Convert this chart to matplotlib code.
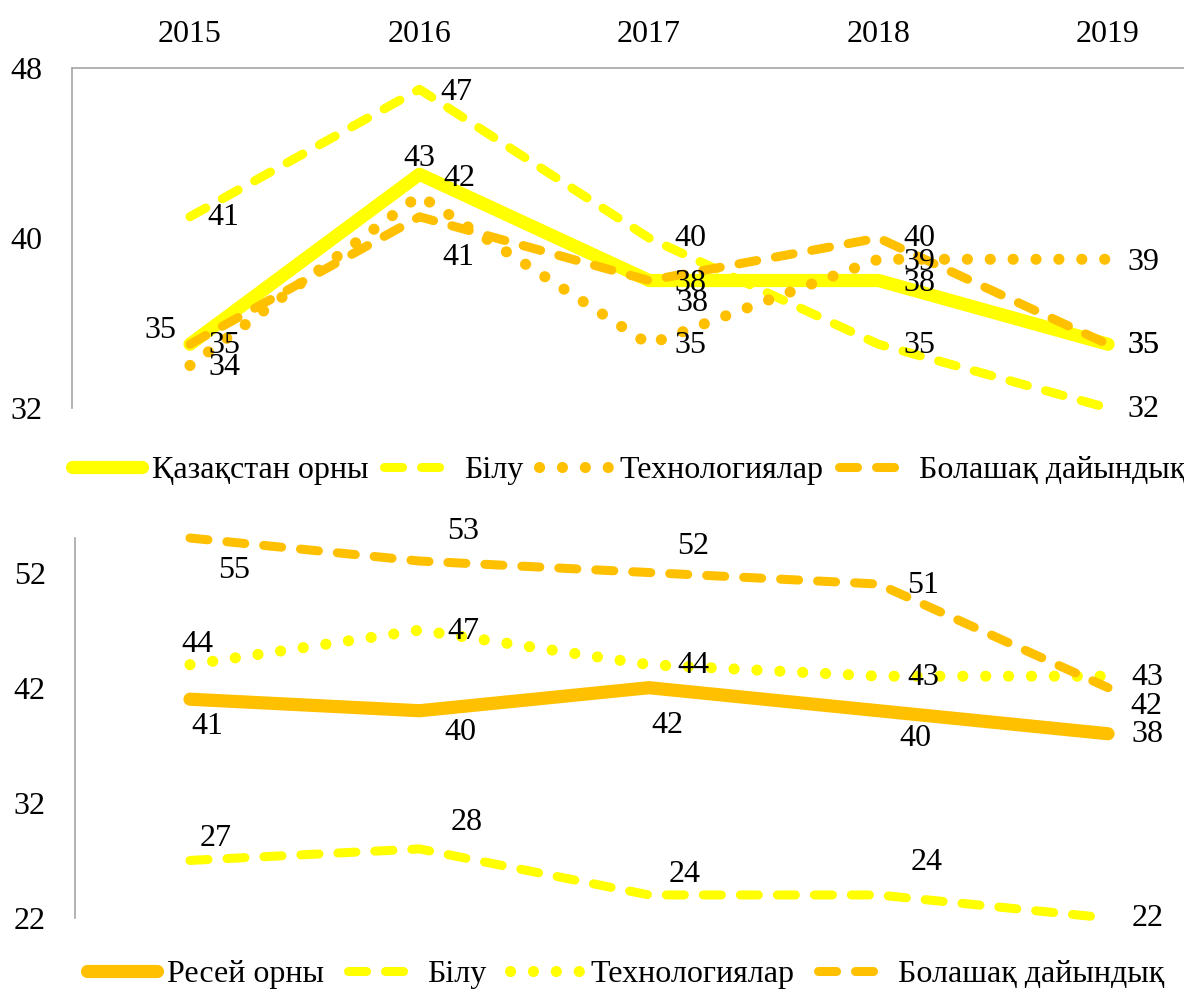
import matplotlib.pyplot as plt
import numpy as np

plt.rcParams['font.family'] = ['Liberation Serif', 'DejaVu Serif']

years = ['2015', '2016', '2017', '2018', '2019']

# Kazakhstan panel
kz_place = [35, 43, 38, 38, 35]
kz_know = [41, 47, 40, 35, 32]
kz_tech = [34, 42, 35, 39, 39]
kz_future = [35, 41, 38, 40, 35]

# Russia panel
ru_place = [41, 40, 42, 40, 38]
ru_know = [27, 28, 24, 24, 22]
ru_tech = [44, 47, 44, 43, 43]
ru_future = [55, 53, 52, 51, 42]

YELLOW = '#FFFF00'
ORANGE = '#FFC000'
FS = 23

# label offsets in pixels (dx, dy with dy downwards), per point
kz_off = {
    'place': [(-30, -14), (0, -16), (41, 3), (41, 3), (35, 1)],
    'know': [(33, 1), (37, 3), (41, 0), (41, 1), (35, 1)],
    'tech': [(34, 2), (40, -17), (41, 1), (41, 3), (35, 3)],
    'future': [(34, 1), (39, 41), (43, 23), (41, 0), (35, 1)],
}
ru_off = {
    'place': [(17, 27), (41, 22), (18, 38), (37, 28), (39, 1)],
    'know': [(26, -22), (47, -26), (36, -20), (48, -32), (40, 1)],
    'tech': [(7, -20), (44, 1), (44, 1), (45, 1), (39, 1)],
    'future': [(44, 33), (44, -30), (44, -26), (45, 1), (38, 19)],
}

x = np.arange(len(years))
fig = plt.figure(figsize=(11.84, 9.92), dpi=100)


def draw(ax, series, offsets, ylim, yticks):
    for key, vals, label, color, style in series:
        kw = dict(color=color, label=label, clip_on=False)
        if style == 'solid':
            ax.plot(x, vals, lw=9.5, solid_capstyle='round', **kw)
        elif style == 'dash':
            ax.plot(x, vals, lw=6.5, dashes=(2.0, 2.1), dash_capstyle='round', **kw)
        else:
            ax.plot(x, vals, lw=8, dashes=(0.01, 2.05), dash_capstyle='round', **kw)
        for i, v in enumerate(vals):
            dx, dy = offsets[key][i]
            ax.annotate(str(v), (x[i], v), xytext=(dx, -dy), textcoords='offset pixels',
                        ha='center', va='center', fontsize=FS)
    ax.set_ylim(*ylim)
    ax.set_yticks(yticks)
    ax.tick_params(axis='y', length=0, pad=21, labelsize=FS)
    for s in ['right', 'bottom', 'top']:
        ax.spines[s].set_visible(False)
    ax.spines['left'].set_color('#A6A6A6')
    ax.spines['left'].set_linewidth(1.2)


ax1 = fig.add_axes([72 / 1184, 1 - 408 / 992, 1 - 72 / 1184, 340 / 992])
draw(ax1, [
    ('place', kz_place, 'Қазақстан орны', YELLOW, 'solid'),
    ('know', kz_know, 'Білу', YELLOW, 'dash'),
    ('tech', kz_tech, 'Технологиялар', ORANGE, 'dot'),
    ('future', kz_future, 'Болашақ дайындық', ORANGE, 'dash'),
], kz_off, (32, 48), [32, 40, 48])
ax1.set_xlim(-0.514, 4.331)
ax1.spines['top'].set_visible(True)
ax1.spines['top'].set_color('#A6A6A6')
ax1.spines['top'].set_linewidth(1.2)
ax1.xaxis.tick_top()
ax1.set_xticks(x)
ax1.set_xticklabels(years)
ax1.tick_params(axis='x', length=0, pad=14, labelsize=FS)

ax2 = fig.add_axes([75 / 1184, 1 - 918 / 992, 1 - 75 / 1184, 380 / 992])
draw(ax2, [
    ('place', ru_place, 'Ресей орны', ORANGE, 'solid'),
    ('know', ru_know, 'Білу', YELLOW, 'dash'),
    ('tech', ru_tech, 'Технологиялар', YELLOW, 'dot'),
    ('future', ru_future, 'Болашақ дайындық', ORANGE, 'dash'),
], ru_off, (22, 55), [22, 32, 42, 52])
ax2.set_xlim(-0.501, 4.331)
ax2.set_xticks([])

for ax, xl, ytop, cs in [(ax1, 72, 1 - 456 / 992, 0.5), (ax2, 87, 1 - 960 / 992, 0.74)]:
    ax.legend(loc='upper left', bbox_to_anchor=(xl / 1184, ytop), bbox_transform=fig.transFigure,
              ncol=4, frameon=False, fontsize=FS, handlelength=2.2, handletextpad=0.3,
              columnspacing=cs, borderaxespad=0, borderpad=0)

plt.savefig('out.png', dpi=100)
